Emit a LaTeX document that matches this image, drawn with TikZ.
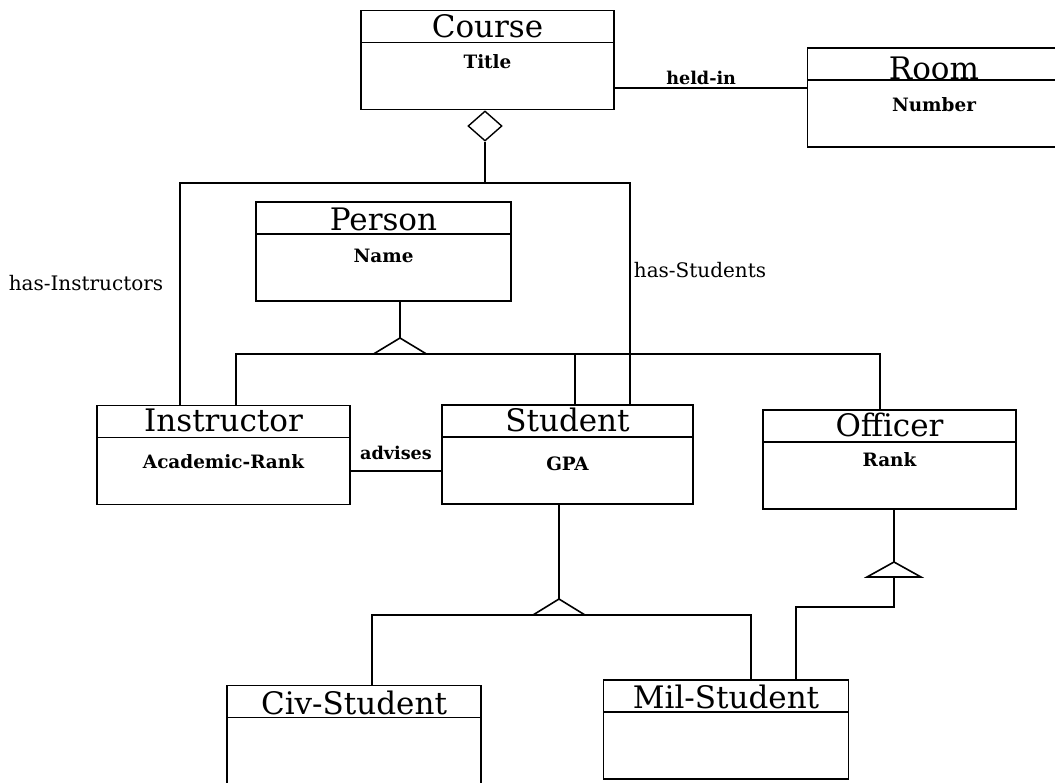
\documentclass[tikz,border=0pt]{standalone}
\usepackage{fontspec}
\setmainfont{DejaVu Serif}
\usepackage{tikz}
\usetikzlibrary{shapes,positioning,calc}

\tikzset{
  classbox/.style={draw, line width=0.8pt, rectangle, minimum width=126.5pt, minimum height=49.5pt, inner sep=0pt,
    path picture={\draw[line width=0.8pt] ([yshift=-16pt]path picture bounding box.north west) -- ([yshift=-16pt]path picture bounding box.north east);}},
  classname/.style={font=\fontsize{15.5}{18}\selectfont, inner sep=0pt},
  attrname/.style={font=\fontsize{9.2}{11}\selectfont\bfseries, inner sep=0pt},
  rolename/.style={font=\fontsize{10}{12}\selectfont, inner sep=0pt},
  rolebold/.style={font=\fontsize{8.8}{10}\selectfont\bfseries, inner sep=1.5pt},
  assoc/.style={line width=0.6pt},
  gentri/.style={line width=0.8pt, fill=white},
  aggdia/.style={draw, diamond, line width=0.7pt, minimum width=17pt, minimum height=15pt, inner sep=0pt, fill=white},
}

\begin{document}
\begin{tikzpicture}[x=0.5pt, y=-0.5pt]
\useasboundingbox (0,0) rectangle (1055,782);
\clip (0,0) rectangle (1055,782);

% classes
\node[classbox] (course) at (487.5,60) {};
\node[classname] (courseN) at ($(course.north)+(0,17)$) {Course};
\node[attrname] (courseA) at ($(course.north)+(0,52)$) {Title};

\node[classbox] (room) at (934,97.5) {};
\node[classname] (roomN) at ($(room.north)+(0,21)$) {Room};
\node[attrname] (roomA) at ($(room.north)+(0,57)$) {Number};

\node[classbox, minimum width=127.5pt] (person) at (383.5,251.5) {};
\node[classname] (personN) at ($(person.north)+(0,18)$) {Person};
\node[attrname] (personA) at ($(person.north)+(0,55)$) {Name};

\node[classbox] (instructor) at (223.5,455) {};
\node[classname] (instructorN) at ($(instructor.north)+(0,16)$) {Instructor};
\node[attrname] (instructorA) at ($(instructor.north)+(0,57)$) {Academic-Rank};

\node[classbox, minimum width=125.5pt] (student) at (567.5,454.5) {};
\node[classname] (studentN) at ($(student.north)+(0,16)$) {Student};
\node[attrname] (studentA) at ($(student.north)+(0,60)$) {GPA};

\node[classbox] (officer) at (889.5,459.5) {};
\node[classname] (officerN) at ($(officer.north)+(0,16)$) {Officer};
\node[attrname] (officerA) at ($(officer.north)+(0,50)$) {Rank};

\node[classbox, minimum width=127pt] (civ) at (354,735) {};
\node[classname] (civN) at ($(civ.north)+(0,18)$) {Civ-Student};

\node[classbox, minimum width=122.5pt] (mil) at (726,729.5) {};
\node[classname] (milN) at ($(mil.north)+(0,18)$) {Mil-Student};

% associations
\draw[assoc] (course.east |- 0,88) -- node[rolebold, above, pos=0.45] (heldin) {held-in} (room.west |- 0,88);
\draw[assoc] (instructor.east |- 0,471) -- node[rolebold, above=4pt] (advises) {advises} (student.west |- 0,471);

% aggregation course -- instructor/student
\node[aggdia, anchor=north] (agg) at (course.south -| 485,0) {};
\coordinate (hasbar) at (485,183);
\draw[assoc] (agg.south) -- (hasbar);
\draw[assoc] (instructor.north -| 180,0) |- (hasbar) -| (student.north -| 630,0);
\node[rolename] (hasinstr) at (86,283) {has-Instructors};
\node[rolename] (hasstud) at (700,270) {has-Students};

% person generalization
\coordinate (papex) at (400,338);
\coordinate (pbar) at (400,354);
\draw[assoc] (person.south -| papex) -- (papex);
\draw[assoc] (instructor.north -| 236,0) |- (pbar) -| (officer.north -| 880,0);
\draw[assoc] (student.north -| 575,0) -- (575,354);
\draw[gentri] (papex) -- ++(-26.5,16) -- ++(53,0) -- cycle;

% student generalization
\coordinate (sapex) at (559,599);
\coordinate (sbar) at (559,615);
\draw[assoc] (student.south -| sapex) -- (sapex);
\draw[assoc] (civ.north -| 372,0) |- (sbar) -| (mil.north -| 751,0);
\draw[gentri] (sapex) -- ++(-26,16) -- ++(52,0) -- cycle;

% officer generalization
\coordinate (oapex) at (894,562);
\coordinate (obase) at (894,577);
\draw[assoc] (officer.south -| oapex) -- (oapex);
\draw[assoc] (obase) -- (894,607) -| (mil.north -| 796,0);
\draw[gentri] (oapex) -- ++(-27,15) -- ++(54,0) -- cycle;
\end{tikzpicture}
\end{document}
